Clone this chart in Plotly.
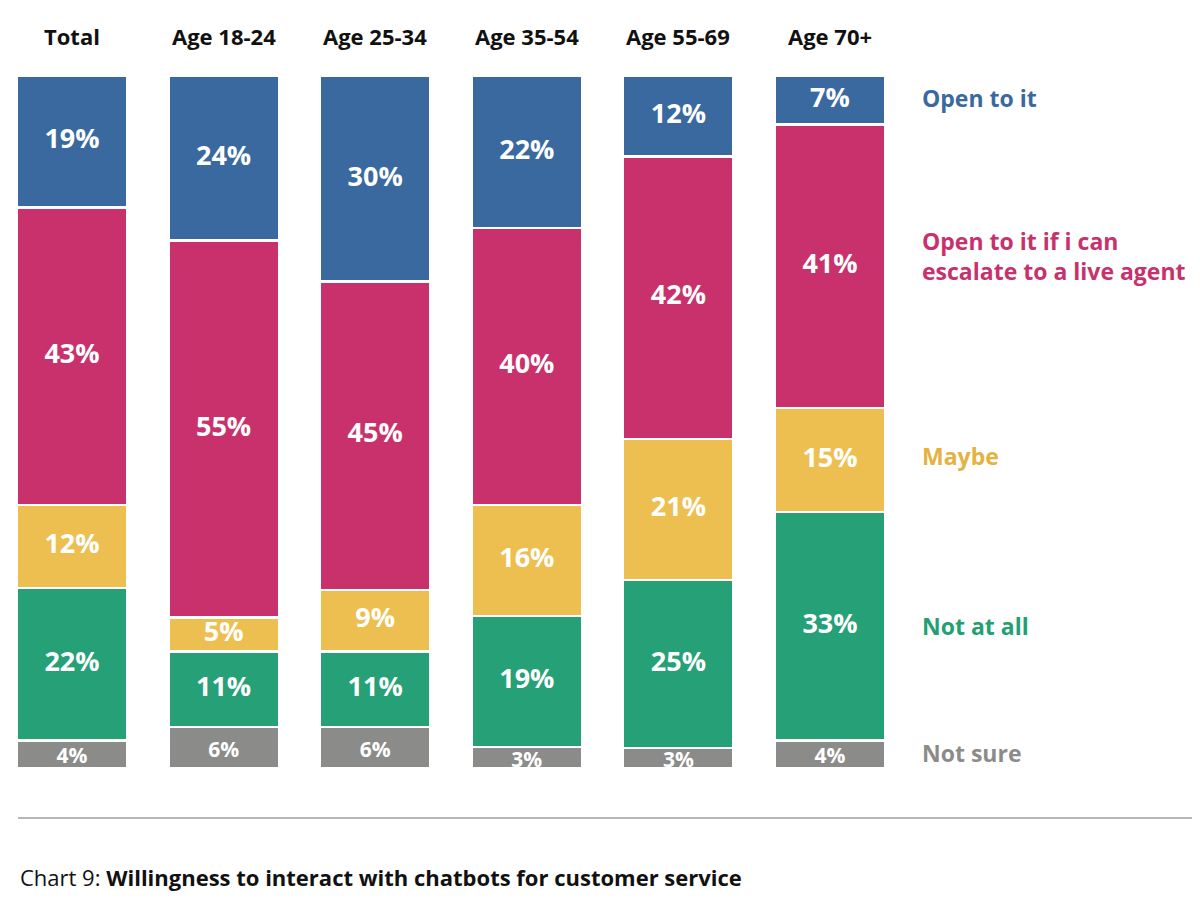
import plotly.graph_objects as go
import numpy as np

categories = ["Total", "Age 18-24", "Age 25-34", "Age 35-54", "Age 55-69", "Age 70+"]
series_names = ["Not sure", "Not at all", "Maybe", "Open to it if i can<br>escalate to a live agent", "Open to it"]
not_sure = [4, 6, 6, 3, 3, 4]
not_at_all = [22, 11, 11, 19, 25, 33]
maybe = [12, 5, 9, 16, 21, 15]
open_escalate = [43, 55, 45, 40, 42, 41]
open_to_it = [19, 24, 30, 22, 12, 7]

series_values = [not_sure, not_at_all, maybe, open_escalate, open_to_it]
colors = ["#8B8C8A", "#25A077", "#EDBF51", "#C8316B", "#3A69A0"]
label_colors = ["#8B8C8A", "#22A074", "#E3B23F", "#C8316B", "#3A69A0"]

FONT = "Open Sans"
W, H = 1200, 899
OFF = 8  # page body margin
TOP, BOTTOM = 76 - OFF, 768 - OFF
legend_py = [753, 626, 456, 256, 98]  # page rows of side labels

fig = go.Figure()
for name, vals, col in zip(series_names, series_values, colors):
    fig.add_trace(go.Bar(
        x=categories, y=vals, name=name,
        marker=dict(color=col, line=dict(color="white", width=2.5)),
        hoverinfo="skip",
    ))

# labels at the middle of each normalized segment
arr = np.array(series_values, dtype=float)
totals = arr.sum(axis=0)
norm = arr / totals * 100
cum = np.cumsum(norm, axis=0)
mids = cum - norm / 2
plot_h = BOTTOM - TOP
px_per_unit = plot_h / 100
for i, vals in enumerate(series_values):
    size = 21 if i == 0 else 27
    shift = (4 / px_per_unit) if i == 0 else 0
    fig.add_trace(go.Scatter(
        x=categories, y=mids[i] - shift, mode="text",
        text=[f"<b>{v}%</b>" for v in vals],
        textfont=dict(family=FONT, size=size, color="white"),
        hoverinfo="skip", showlegend=False, cliponaxis=True,
    ))

annotations = []
for cat in categories:
    annotations.append(dict(x=cat, y=1, xref="x", yref="paper", yanchor="middle",
                            yshift=TOP - (36 - OFF), text=f"<b>{cat}</b>", showarrow=False,
                            font=dict(family=FONT, size=22, color="#111111")))
for name, col, py in zip(series_names, label_colors, legend_py):
    annotations.append(dict(x=(920 - OFF) / W, y=(BOTTOM - (py - OFF)) / plot_h, xref="paper", yref="paper",
                            text=f"<b>{name}</b>", showarrow=False, align="left",
                            xanchor="left", yanchor="middle",
                            font=dict(family=FONT, size=23, color=col)))

annotations.append(dict(x=(18 - OFF) / W, y=(BOTTOM - (877 - OFF)) / plot_h, xref="paper", yref="paper",
                        xanchor="left", yanchor="middle", showarrow=False,
                        text="Chart 9: <b>Willingness to interact with chatbots for customer service</b>",
                        font=dict(family=FONT, size=22, color="#111111")))

line_y = (BOTTOM - (818 - OFF)) / plot_h
shapes = [dict(type="line", xref="paper", yref="paper", x0=(18 - OFF) / W, x1=1.0,
               y0=line_y, y1=line_y, line=dict(color="#6E6E6E", width=1))]

spacing = (830 - 72) / 5
a0 = -(72 - OFF) / spacing
b0 = a0 + W / spacing
fig.update_layout(
    width=W, height=H,
    margin=dict(l=0, r=0, t=TOP, b=H - BOTTOM),
    barmode="stack", barnorm="percent", bargap=1 - 110.5 / spacing,
    plot_bgcolor="white", paper_bgcolor="white",
    showlegend=False,
    xaxis=dict(type="category", range=[a0, b0], showticklabels=False, showgrid=False,
               zeroline=False, showline=False, ticks=""),
    yaxis=dict(range=[0, 100], visible=False),
    annotations=annotations, shapes=shapes,
)
fig.write_html("out.html")
